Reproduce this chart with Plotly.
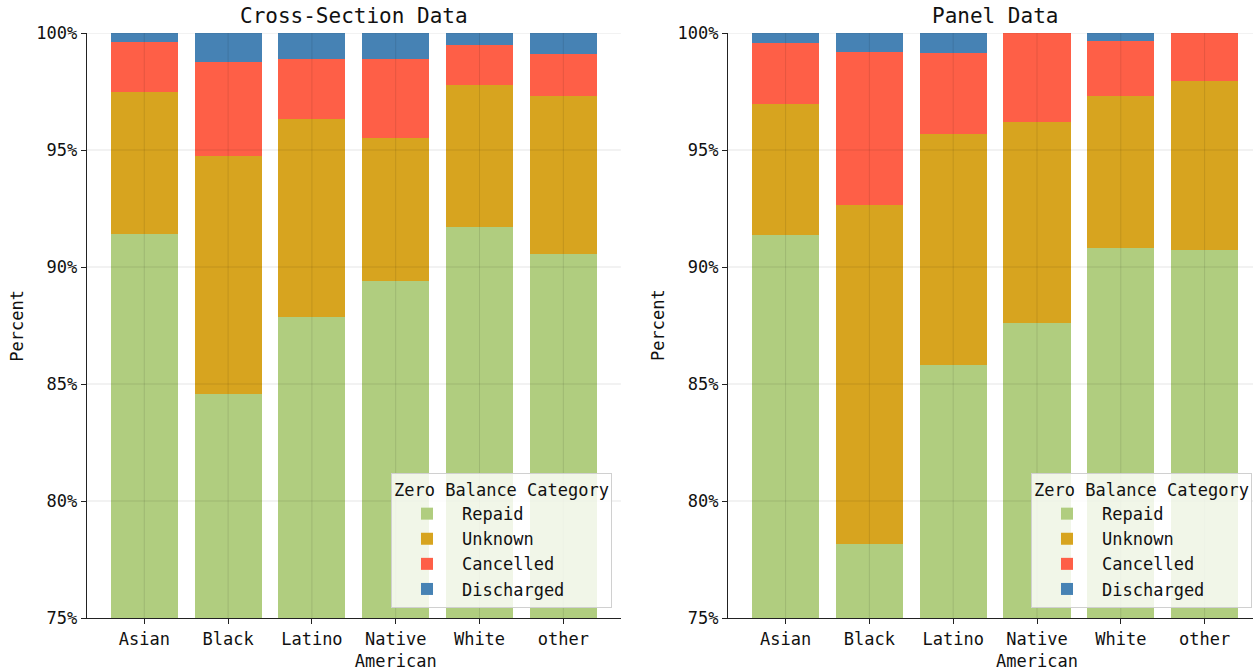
import plotly.graph_objects as go
from plotly.subplots import make_subplots

# Groups shown along the x axis
groups = ["Asian", "Black", "Latino", "Native American", "White", "other"]
group_labels = ["Asian", "Black", "Latino", "Native<br>American", "White", "other"]

# Zero-balance outcome shares (percent) - cross-section sample
cs_repaid = [91.41, 84.59, 87.85, 89.40, 91.70, 90.56]
cs_unknown = [6.08, 10.17, 8.46, 6.13, 6.08, 6.73]
cs_cancelled = [2.13, 4.00, 2.58, 3.34, 1.71, 1.81]
cs_discharged = [0.38, 1.24, 1.11, 1.13, 0.51, 0.90]

# Zero-balance outcome shares (percent) - panel sample
pn_repaid = [91.37, 78.18, 85.81, 87.62, 90.83, 90.74]
pn_unknown = [5.61, 14.45, 9.89, 8.58, 6.48, 7.21]
pn_cancelled = [2.59, 6.54, 3.45, 3.80, 2.33, 2.05]
pn_discharged = [0.43, 0.83, 0.85, 0.00, 0.36, 0.00]

categories = ["Repaid", "Unknown", "Cancelled", "Discharged"]
y_ticks = [75, 80, 85, 90, 95, 100]
y_ticktext = ["75%", "80%", "85%", "90%", "95%", "100%"]
panel_titles = ["Cross-Section Data", "Panel Data"]

colors = {
    "Repaid": "#b0cd7f",
    "Unknown": "#d7a41f",
    "Cancelled": "#fe5f47",
    "Discharged": "#4682b4",
}

FONT = "DejaVu Sans Mono"
W, H = 1253, 672

fig = make_subplots(rows=1, cols=2)

panels = [
    (1, "legend", [cs_repaid, cs_unknown, cs_cancelled, cs_discharged]),
    (2, "legend2", [pn_repaid, pn_unknown, pn_cancelled, pn_discharged]),
]
for col, leg, series in panels:
    for name, vals in zip(categories, series):
        fig.add_trace(
            go.Bar(
                x=groups, y=vals, name=name,
                marker=dict(color=colors[name], line=dict(width=0)),
                legend=leg, hoverinfo="skip",
            ),
            row=1, col=col,
        )

# Pixel geometry of the two plotting areas
ax_top, ax_bottom = 33, 618
left_x0, left_x1 = 86.7, 620.9
right_x0 = 728.0
step = (left_x1 - left_x0) / 6.374
pad = 0.687
right_full_end = right_x0 + step * (5 + 2 * pad)
right_range_end = 5 + pad - (right_full_end - W) / step

ydom = [(H - ax_bottom) / H, (H - ax_top) / H]
axis_common = dict(
    showline=True, linecolor="#222222", linewidth=1.3,
    ticks="outside", ticklen=5, tickwidth=1.3, tickcolor="#222222",
    showgrid=False, zeroline=False, automargin=False,
    tickfont=dict(family=FONT, size=17, color="#111111"),
)

fig.update_layout(
    barmode="stack", bargap=0.2,
    width=W, height=H,
    margin=dict(l=0, r=0, t=0, b=0, autoexpand=False),
    paper_bgcolor="white", plot_bgcolor="white",
    font=dict(family=FONT, size=17, color="#111111"),
    xaxis=dict(domain=[left_x0 / W, left_x1 / W], range=[-pad, 5 + pad],
               tickvals=groups, ticktext=group_labels, **axis_common),
    xaxis2=dict(domain=[right_x0 / W, 1.0], range=[-pad, right_range_end],
                tickvals=groups, ticktext=group_labels, **axis_common),
    yaxis=dict(domain=ydom, range=[75, 100], tickvals=y_ticks,
               ticktext=y_ticktext, **axis_common),
    yaxis2=dict(domain=ydom, range=[75, 100], tickvals=y_ticks,
                ticktext=y_ticktext, **axis_common),
)

legend_common = dict(
    bgcolor="rgba(255,255,255,0.82)", bordercolor="#d0d0d0", borderwidth=1,
    font=dict(family=FONT, size=17, color="#111111"),
    title=dict(text="Zero Balance Category", side="top center",
               font=dict(family=FONT, size=17, color="#111111")),
    xanchor="right", yanchor="bottom", traceorder="normal",
    itemwidth=60, itemclick=False, itemdoubleclick=False,
)
fig.update_layout(
    legend=dict(x=612 / W, y=(H - 608) / H, **legend_common),
    legend2=dict(x=1252 / W, y=(H - 608) / H, **legend_common),
)

# Grid lines sit on top of the bars, as translucent strokes
grid_color = "rgba(0,0,0,0.1)"
for xr, yr in [("x", "y"), ("x2", "y2")]:
    for v in y_ticks[1:]:
        fig.add_shape(type="line", xref=f"{xr} domain", yref=yr,
                      x0=0, x1=1, y0=v, y1=v, layer="above",
                      line=dict(color=grid_color, width=1))
    for i in range(len(groups)):
        fig.add_shape(type="line", xref=xr, yref=f"{yr} domain",
                      x0=i, x1=i, y0=0, y1=1, layer="above",
                      line=dict(color=grid_color, width=1))

# Panel titles, centred on each panel's full axis span
title_centres = [(left_x0 + left_x1) / 2, (right_x0 + right_full_end) / 2]
for text, cx in zip(panel_titles, title_centres):
    fig.add_annotation(text=text, x=cx / W, y=1 - 16 / H, xref="paper", yref="paper",
                       xanchor="center", yanchor="middle", showarrow=False,
                       font=dict(family=FONT, size=21, color="#111111"))

# Y-axis titles
for ax0 in [left_x0, right_x0]:
    fig.add_annotation(text="Percent", x=(ax0 - 70.5) / W, y=(H - (ax_top + ax_bottom) / 2) / H,
                       xref="paper", yref="paper", textangle=-90,
                       xanchor="center", yanchor="middle", showarrow=False,
                       font=dict(family=FONT, size=17, color="#111111"))

fig.write_html("out.html")
